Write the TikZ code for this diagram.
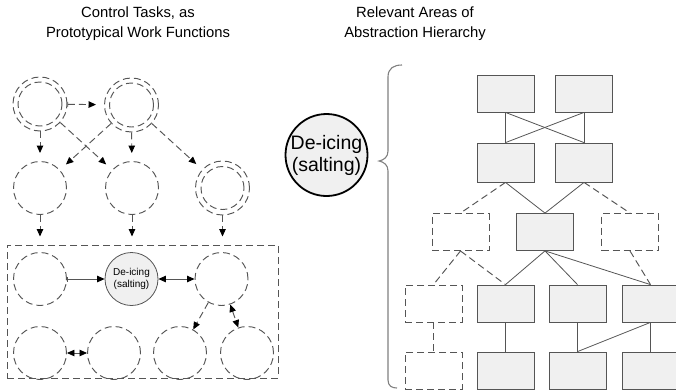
\documentclass[tikz,border=0pt]{standalone}
\usepackage{fontspec}
\setmainfont{Liberation Sans}
\usetikzlibrary{arrows.meta}
\definecolor{boxfill}{HTML}{F0F0F0}
\definecolor{edge}{HTML}{555555}
\begin{document}
\begin{tikzpicture}[x=1pt,y=-1pt,
  dashline/.style={draw=edge, line width=0.95pt, dash pattern=on 7pt off 4pt},
  solidline/.style={draw=edge, line width=0.8pt},
  task/.style={circle, dashline, minimum size=53pt, inner sep=0pt},
  outer/.style={circle, dashline, minimum size=54pt, inner sep=0pt},
  focus/.style={circle, draw=edge, fill=boxfill, line width=0.8pt, minimum size=53pt,
    inner sep=0pt, align=center, font=\fontsize{10}{12}\selectfont},
  bigfocus/.style={circle, draw=black, fill=boxfill, line width=1.8pt, minimum size=82pt,
    inner sep=0pt, align=center, font=\fontsize{19.5}{22}\selectfont},
  title/.style={align=center, font=\fontsize{14.8}{20}\selectfont},
  flow/.style={dashline, -{Triangle[length=7.5pt,width=6.5pt,black]}, shorten >=8pt},
  flowbar/.style={dashline, {Bar[width=5pt,line width=0.6pt]}-{Triangle[length=7.5pt,width=6.5pt,black]}, shorten >=8pt},
  ahbox/.style={rectangle, draw=edge, fill=boxfill, line width=0.8pt,
    minimum width=57pt, minimum height=37pt, inner sep=0pt},
  ahdash/.style={rectangle, dashline, minimum width=57pt, minimum height=37pt, inner sep=0pt},
  brace/.style={draw=gray, line width=1.1pt}
]
\useasboundingbox (0,0) rectangle (676,391);

% headings
\node[title] (h1) at (138,24) {Control Tasks, as\\Prototypical Work Functions};
\node[title] (h2) at (415,24) {Relevant Areas of\\Abstraction Hierarchy};

% ---- control tasks: upper rows ----
\node[outer] (t1) at (40,104) {};
\node[outer] (t2) at (131.5,105) {};
\draw[dashline] (t1.center) circle (22pt);
\draw[dashline] (t2.center) circle (22pt);

\node[task] (m1) at (40,188) {};
\node[task] (m2) at (132,188) {};
\node[outer] (m3) at (222.5,188) {};
\draw[dashline] (m3.center) circle (21.5pt);

\draw[flowbar] (t1) -- (t2);
\draw[flow] (t1) -- (m1);
\draw[flow] (t1) -- (m2);
\draw[flow] (t2) -- (m1);
\draw[flow] (t2) -- (m2);
\draw[flow] (t2) -- (m3);

% ---- dashed group ----
\node[rectangle, dashline, minimum width=271pt, minimum height=133pt, inner sep=0pt]
  (grp) at (142.5,311.5) {};

\node[task] (l3) at (40,279) {};
\node[focus] (de) at (131.5,279) {De-icing\\(salting)};
\node[task] (r3) at (221.5,279) {};

\node[task] (c1) at (40,353) {};
\node[task] (c2) at (114,353) {};
\node[task] (c3) at (180,353) {};
\node[task] (c4) at (247,353) {};

\draw[flow] (m1) -- (m1 |- grp.north);
\draw[flow] (m2) -- (m2 |- grp.north);
\draw[flow] (m3) -- (m3 |- grp.north);

\draw[solidline, {Bar[width=5pt,line width=0.6pt]}-{Triangle[length=7.5pt,width=6.5pt,black]}] (l3) -- (de);
\draw[solidline, {Triangle[length=7.5pt,width=6.5pt,black]}-{Triangle[length=7.5pt,width=6.5pt,black]}] (de) -- (r3);
\draw[dashline, -{Triangle[length=7.5pt,width=6.5pt,black]}] (r3) -- (c3);
\draw[dashline, {Triangle[length=7.5pt,width=6.5pt,black]}-{Triangle[length=7.5pt,width=6.5pt,black]}] (r3) -- (c4);
\draw[solidline, {Triangle[length=7.5pt,width=6.5pt,black]}-{Triangle[length=7.5pt,width=6.5pt,black]}] (c1) -- (c2);

% ---- focus task and brace ----
\node[bigfocus] (dz) at (326.5,155) {De-icing\\(salting)};
\draw[brace] (402,65) .. controls (394,65) and (388,68) .. (388,77) -- (388,151)
  .. controls (388,157) and (384,160) .. (379,161)
  .. controls (384,162) and (388,165) .. (388,171) -- (388,380)
  .. controls (388,386) and (392,388) .. (397,388);

% ---- abstraction hierarchy ----
\node[ahbox] (a11) at (505.5,93.5) {};
\node[ahbox] (a12) at (584,93.5) {};
\node[ahbox, minimum height=39pt] (a21) at (505.5,162.5) {};
\node[ahbox, minimum height=39pt] (a22) at (584,162.5) {};

\node[ahdash] (a31) at (460.5,232) {};
\node[ahbox] (a32) at (545,232) {};
\node[ahdash] (a33) at (630,232) {};

\node[ahdash] (a41) at (433.5,303.5) {};
\node[ahbox] (a42) at (505.5,303.5) {};
\node[ahbox] (a43) at (577.5,303.5) {};
\node[ahbox] (a44) at (650.5,303.5) {};

\node[ahdash] (a51) at (433.5,370.5) {};
\node[ahbox] (a52) at (505.5,370.5) {};
\node[ahbox] (a53) at (577.5,370.5) {};
\node[ahbox] (a54) at (650.5,370.5) {};

\draw[solidline] (a11.south) -- (a21.north);
\draw[solidline] (a12.south) -- (a22.north);
\draw[solidline] (a11.south) -- (a22.north);
\draw[solidline] (a12.south) -- (a21.north);

\draw[dashline] (a21.south) -- (a31.north);
\draw[solidline] (a21.south) -- (a32.north);
\draw[solidline] (a22.south) -- (a32.north);
\draw[dashline] (a22.south) -- (a33.north);

\draw[dashline] (a31.south) -- (a41.north);
\draw[dashline] (a31.south) -- (a42.north);
\draw[solidline] (a32.south) -- (a42.north);
\draw[solidline] (a32.south) -- (a43.north);
\draw[solidline] (a32.south) -- (a44.north);
\draw[dashline] (a33.south) -- (a44.north);

\draw[dashline] (a41.south) -- (a51.north);
\draw[solidline] (a42.south) -- (a52.north);
\draw[solidline] (a43.south) -- (a53.north);
\draw[solidline] (a44.south) -- (a53.north);
\draw[solidline] (a44.south) -- (a54.north);
\end{tikzpicture}
\end{document}
